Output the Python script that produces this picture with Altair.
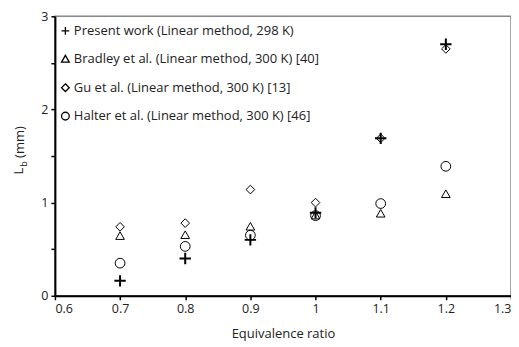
import altair as alt
import pandas as pd

phi = [0.7, 0.8, 0.9, 1.0, 1.1, 1.2]
series = [
    "Present work (Linear method, 298 K)",
    "Bradley et al. (Linear method, 300 K) [40]",
    "Gu et al. (Linear method, 300 K) [13]",
    "Halter et al. (Linear method, 300 K) [46]",
]
present = [0.16, 0.40, 0.60, 0.89, 1.69, 2.70]
bradley = [0.64, 0.65, 0.74, 0.86, 0.88, 1.09]
gu = [0.74, 0.78, 1.14, 1.00, 1.69, 2.65]
halter = [0.35, 0.53, 0.65, 0.86, 0.99, 1.39]

rows = []
for name, vals in zip(series, [present, bradley, gu, halter]):
    for x, y in zip(phi, vals):
        rows.append({"phi": x, "Lb": y, "series": name})
df = pd.DataFrame(rows)

shapes = [
    "M-1,0L1,0M0,-1L0,1",
    "M0,-1L1,0.75L-1,0.75Z",
    "M0,-1L1,0L0,1L-1,0Z",
    "circle",
]
sizes = [130, 75, 75, 95]
widths = [2, 1, 1, 1]

FONT = "Open Sans"
TOP = 8
H = 296 - 8 - TOP

x_enc = alt.X("phi:Q", scale=alt.Scale(domain=[0.6, 1.3], nice=False),
              axis=alt.Axis(title="Equivalence ratio", values=[0.6, 0.7, 0.8, 0.9, 1.0, 1.1, 1.2, 1.3],
                            format="~g", grid=False, domainColor="black", domainWidth=2,
                            tickColor="black", tickSize=4, tickWidth=1.5,
                            labelFont=FONT, labelFontSize=12.5, labelColor="#222",
                            titleFont=FONT, titleFontSize=13, titleFontWeight="normal",
                            titleColor="#222", titlePadding=12, labelPadding=3))
y_enc = alt.Y("Lb:Q", scale=alt.Scale(domain=[0, 3], nice=False),
              axis=alt.Axis(title=None, values=[0, 0.5, 1, 1.5, 2, 2.5, 3],
                            labelExpr="datum.value % 1 == 0 ? format(datum.value, 'd') : ''",
                            grid=False, domainColor="black", domainWidth=2,
                            tickColor="black", tickSize=4, tickWidth=1.5,
                            labelFont=FONT, labelFontSize=12.5, labelColor="#222", labelPadding=3))
shape_enc = alt.Shape("series:N", sort=series,
                      scale=alt.Scale(domain=series, range=shapes),
                      legend=alt.Legend(title=None, orient="none", legendX=4, legendY=28 - 8 - TOP - 4,
                                        padding=0, labelFont=FONT, labelFontSize=13,
                                        labelColor="#222", rowPadding=14.5, labelLimit=400,
                                        symbolStrokeColor="black", symbolStrokeWidth=1.3,
                                        symbolSize=60, symbolType="circle", labelOffset=2))

base = alt.Chart(df)
layers = []
for name, sz, sw in zip(series, sizes, widths):
    layers.append(
        base.transform_filter(alt.datum.series == name)
        .mark_point(filled=False, color="black", opacity=1, size=sz, strokeWidth=sw)
        .encode(x=x_enc, y=y_enc, shape=shape_enc)
    )

ytitle_main = alt.Chart(pd.DataFrame({"t": ["(mm)"]})).mark_text(
    angle=270, font=FONT, fontSize=13, color="#222", align="center", baseline="middle"
).encode(text="t:N", x=alt.value(-35), y=alt.value(142 - 8 - TOP))
ytitle_L = alt.Chart(pd.DataFrame({"t": ["L"]})).mark_text(
    angle=270, font=FONT, fontSize=13, color="#222", align="center", baseline="middle"
).encode(text="t:N", x=alt.value(-36), y=alt.value(171 - 8 - TOP))
ytitle_b = alt.Chart(pd.DataFrame({"t": ["b"]})).mark_text(
    angle=270, font=FONT, fontSize=9, color="#222", align="center", baseline="middle"
).encode(text="t:N", x=alt.value(-31), y=alt.value(164 - 8 - TOP))

chart = alt.layer(*layers, ytitle_main, ytitle_L, ytitle_b).properties(
    width=457, height=H,
    autosize=alt.AutoSizeParams(type="none"),
    padding={"left": 47, "top": TOP, "right": 0, "bottom": 50},
).configure_view(stroke="#888", strokeWidth=1.5)

chart.save("out.html", embed_options={"renderer": "svg", "actions": False})
